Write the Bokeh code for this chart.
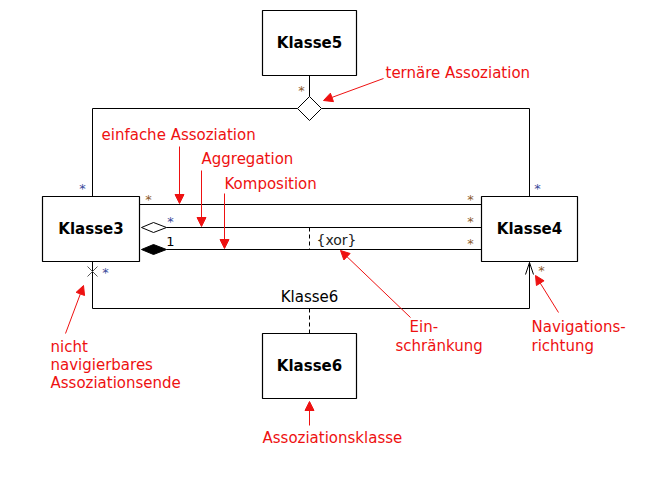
from bokeh.plotting import figure
from bokeh.models import Range1d, Arrow, NormalHead
from bokeh.core.properties import value
from bokeh.embed import file_html
from bokeh.resources import INLINE

# classes: name, left, right, top, bottom (image pixel coords)
class_names = ["Klasse5", "Klasse3", "Klasse4", "Klasse6"]
class_left = [262, 42, 481, 262]
class_right = [356, 139, 577, 356]
class_top = [10, 196, 196, 333]
class_bottom = [75, 261, 261, 398]

# association lines between Klasse3 and Klasse4
assoc_y = [204, 227, 249]
# multiplicities
mult_text = ["*", "*", "1", "*", "*", "*", "*", "*", "*", "*", "*"]
mult_x = [148, 170, 170, 470, 470, 470, 82, 537, 105, 541, 301]
mult_y = [199, 221, 241, 199, 221, 243, 188, 188, 272, 270, 90]
mult_color = ["#8b5a2b", "#3a4a9a", "black", "#8b5a2b", "#8b5a2b", "#8b5a2b",
              "#3a4a9a", "#3a4a9a", "#3a4a9a", "#8b5a2b", "#8b5a2b"]

# red annotations
note_text = ["ternäre Assoziation", "einfache Assoziation", "Aggregation", "Komposition",
             "Ein-", "schränkung", "Navigations-", "richtung",
             "nicht", "navigierbares", "Assoziationsende", "Assoziationsklasse"]
note_x = [385, 101, 201, 224, 409, 395, 531, 531, 50, 50, 50, 262]
note_y = [72, 134, 158, 183, 326, 345, 326, 345, 346, 364, 382, 437]
arrow_x0 = [383, 179, 201, 224, 410, 558, 65, 309]
arrow_y0 = [78, 146, 170, 193, 317, 312, 333, 425]
arrow_x1 = [323, 179, 201, 224, 340, 535, 83, 309]
arrow_y1 = [100, 203, 226, 248, 250, 275, 285, 401]

p = figure(width=650, height=464, output_backend="svg", toolbar_location=None,
           x_range=Range1d(0, 650), y_range=Range1d(464, 0), min_border=0)
p.axis.visible = False
p.grid.visible = False
p.outline_line_color = None

p.quad(left=class_left, right=class_right, top=class_top, bottom=class_bottom,
       fill_color="white", line_color="black", line_width=1.2)
cx = [(a + b) / 2 for a, b in zip(class_left, class_right)]
cy = [(a + b) / 2 for a, b in zip(class_top, class_bottom)]
p.text(cx, cy, text=class_names, text_align="center", text_baseline="middle",
       text_font=value("DejaVu Sans"), text_font_style="bold", text_font_size="15px")

# ternary association
dcx, dcy = 309, 108
p.line([309, 309], [75, 96], color="black")
p.multi_line([[297, 92, 92], [321, 529, 529]], [[108, 108, 196], [108, 108, 196]], color="black")
p.patch([dcx, dcx + 12, dcx, dcx - 12], [dcy - 12, dcy, dcy + 12, dcy],
        fill_color="white", line_color="black")

# binary associations
p.line([139, 481], [assoc_y[0], assoc_y[0]], color="black")
p.line([166, 481], [assoc_y[1], assoc_y[1]], color="black")
p.line([166, 481], [assoc_y[2], assoc_y[2]], color="black")
p.patch([141, 153, 166, 153], [227, 222, 227, 232], fill_color="white", line_color="black")
p.patch([141, 153, 166, 153], [249, 244, 249, 254], fill_color="black", line_color="black")
p.line([309, 309], [227, 249], color="black", line_dash="4 3")
p.text([316], [239], text=["{xor}"], text_baseline="middle",
       text_font=value("DejaVu Sans"), text_font_size="14px", text_color="#222222")

# bottom association with association class
p.line([92, 92, 529, 529], [261, 308, 308, 262], color="black")
p.multi_line([[87, 97], [87, 97]], [[266, 276], [276, 266]], color="#555555")
p.multi_line([[525, 529, 533]], [[274, 262, 274]], color="black")
p.text([309], [296], text=["Klasse6"], text_align="center", text_baseline="middle",
       text_font=value("DejaVu Sans"), text_font_size="15px")
p.line([309, 309], [308, 333], color="black", line_dash="4 3")

p.text(mult_x, mult_y, text=mult_text, text_align="center", text_baseline="middle",
       text_color=mult_color, text_font=value("DejaVu Sans"), text_font_size="13px")

p.text(note_x, note_y, text=note_text, text_baseline="middle", text_color="#ee1111",
       text_font=value("DejaVu Sans"), text_font_size="15px")
for i in range(len(arrow_x0)):
    p.add_layout(Arrow(end=NormalHead(size=9, fill_color="#ee1111", line_color="#ee1111"),
                       x_start=arrow_x0[i], y_start=arrow_y0[i],
                       x_end=arrow_x1[i], y_end=arrow_y1[i],
                       line_color="#ee1111", line_width=1))

open("out.html", "w").write(file_html(p, INLINE))
